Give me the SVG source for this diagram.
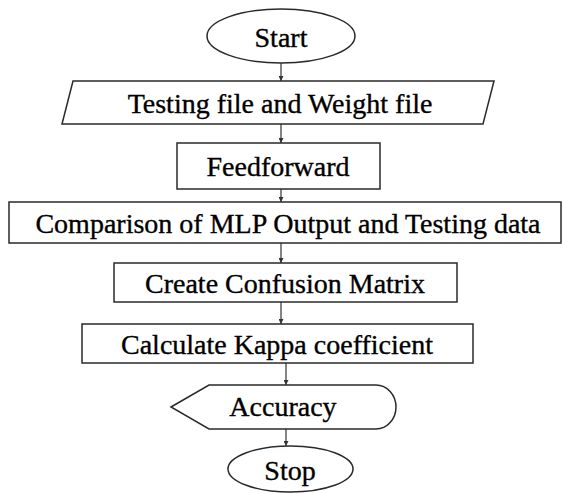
<svg xmlns="http://www.w3.org/2000/svg" width="563" height="493" viewBox="0 0 563 493">
<style>
.s{fill:#fff;stroke:#2a2a2a;stroke-width:1.5}
.t{font-family:"Liberation Serif","Times New Roman",serif;font-size:28px;fill:#000;stroke:#000;stroke-width:0.35;text-anchor:middle}
.c{stroke:#333;stroke-width:1.2;fill:none;marker-end:url(#ah)}
</style>
<defs>
<marker id="ah" viewBox="0 0 10 10" refX="10" refY="5" markerWidth="5" markerHeight="5" markerUnits="userSpaceOnUse" orient="auto">
<path d="M0,0 L10,5 L0,10 z" fill="#333"/>
</marker>
</defs>
<rect width="563" height="493" fill="#fff"/>
<g id="connectors">
<line class="c" x1="281" y1="63" x2="281" y2="81"/>
<line class="c" x1="281" y1="124" x2="281" y2="143"/>
<line class="c" x1="281" y1="189" x2="281" y2="202"/>
<line class="c" x1="281" y1="243" x2="281" y2="263"/>
<line class="c" x1="281" y1="302" x2="281" y2="324"/>
<line class="c" x1="286" y1="363" x2="286" y2="385"/>
<line class="c" x1="286" y1="429" x2="286" y2="446"/>
</g>
<g id="start">
<ellipse class="s" cx="281" cy="36" rx="74" ry="27"/>
<text class="t" x="281" y="47">Start</text>
</g>
<g id="input">
<polygon class="s" points="73,81 494,81 483,124 62,124"/>
<text class="t" x="280" y="113">Testing file and Weight file</text>
</g>
<g id="feedforward">
<rect class="s" x="177" y="143" width="203" height="46"/>
<text class="t" x="278" y="176">Feedforward</text>
</g>
<g id="comparison">
<rect class="s" x="9" y="202" width="552" height="41"/>
<text class="t" x="288" y="233">Comparison of MLP Output and Testing data</text>
</g>
<g id="confusion">
<rect class="s" x="114" y="263" width="343" height="39"/>
<text class="t" x="285" y="293">Create Confusion Matrix</text>
</g>
<g id="kappa">
<rect class="s" x="82" y="324" width="391" height="39"/>
<text class="t" x="277" y="354">Calculate Kappa coefficient</text>
</g>
<g id="accuracy">
<path class="s" d="M171,407 L209,385 L376,385 A20,22 0 0 1 376,429 L209,429 Z"/>
<text class="t" x="283" y="416">Accuracy</text>
</g>
<g id="stop">
<ellipse class="s" cx="290.5" cy="469" rx="62.5" ry="23"/>
<text class="t" x="290" y="480">Stop</text>
</g>
</svg>
